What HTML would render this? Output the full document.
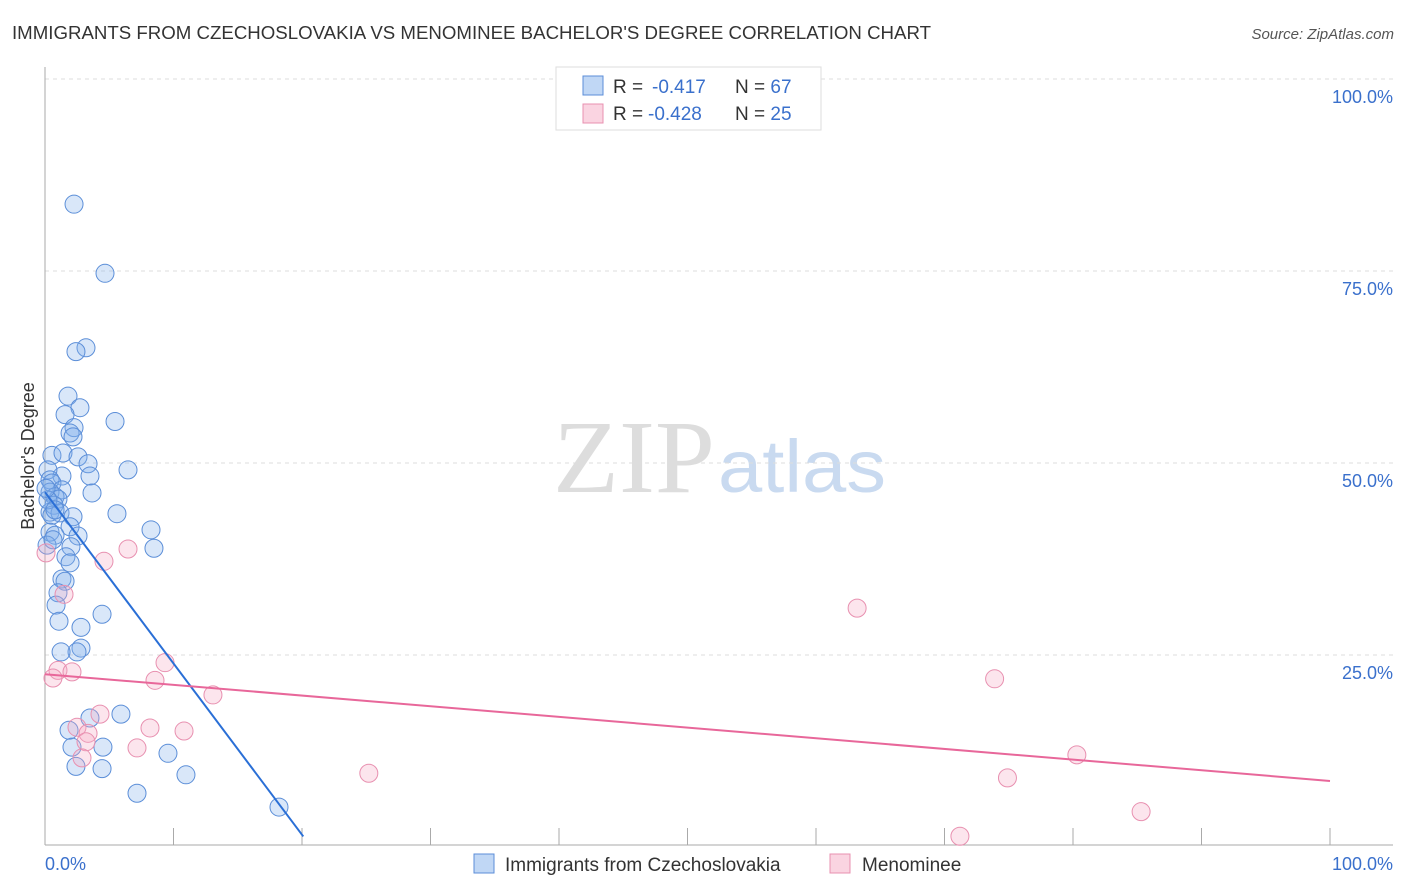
<!DOCTYPE html>
<html><head><meta charset="utf-8"><style>
body{margin:0;background:#fff;font-family:"Liberation Sans",sans-serif;}
svg{display:block}
</style></head><body>
<svg id="chart" width="1406" height="892">
<text x="12" y="39" font-size="18" fill="#333" textLength="919" lengthAdjust="spacingAndGlyphs">IMMIGRANTS FROM CZECHOSLOVAKIA VS MENOMINEE BACHELOR'S DEGREE CORRELATION CHART</text>
<text x="1394" y="39" font-size="15" fill="#555" font-style="italic" text-anchor="end">Source: ZipAtlas.com</text>
<text x="553" y="492" font-size="104" fill="#ddd" font-family="Liberation Serif,serif" textLength="162" lengthAdjust="spacingAndGlyphs">ZIP</text>
<text x="718" y="492" font-size="74" fill="#c9daf0" textLength="168" lengthAdjust="spacingAndGlyphs">atlas</text>
<g id="grid"></g>
<line x1="45" y1="67" x2="45" y2="845" stroke="#aaa"/>
<line x1="45" y1="845" x2="1393" y2="845" stroke="#aaa"/>
<text transform="translate(34,456) rotate(-90)" font-size="18" fill="#333" text-anchor="middle">Bachelor's Degree</text>
<text x="45" y="870" font-size="18" fill="#3a70cc">0.0%</text>
<text x="1393" y="870" font-size="18" fill="#3a70cc" text-anchor="end">100.0%</text>
<g id="pts"></g>
<g id="trends"></g>
<g>
<rect x="556" y="67" width="265" height="63" fill="#fff" stroke="#ddd"/>
<rect x="583" y="76" width="20" height="19" fill="rgba(130,175,235,0.5)" stroke="#5b8ed8"/>
<rect x="583" y="104" width="20" height="19" fill="rgba(245,170,195,0.5)" stroke="#e890b0"/>
<text x="613" y="93" font-size="19" fill="#333">R = <tspan x="652" fill="#3a70cc">-0.417</tspan><tspan x="735">N = </tspan><tspan fill="#3a70cc">67</tspan></text>
<text x="613" y="120" font-size="19" fill="#333">R = <tspan x="648" fill="#3a70cc">-0.428</tspan><tspan x="735">N = </tspan><tspan fill="#3a70cc">25</tspan></text>
</g>
<g>
<rect x="474" y="854" width="20" height="19" fill="rgba(130,175,235,0.5)" stroke="#5b8ed8"/>
<text x="505" y="871" font-size="19" fill="#333">Immigrants from Czechoslovakia</text>
<rect x="830" y="854" width="20" height="19" fill="rgba(245,170,195,0.5)" stroke="#e890b0"/>
<text x="862" y="871" font-size="19" fill="#333">Menominee</text>
</g>
</svg>
<script>
const yTicks=[25,50,75,100];
const yTickLabels=["25.0%","50.0%","75.0%","100.0%"];
const xTicks=[10,20,30,40,50,60,70,80,90,100];
const blueX=[2.26,4.67,3.19,2.41,1.79,2.72,1.56,5.45,2.26,1.95,2.18,0.54,1.40,2.57,3.35,6.46,1.32,3.50,0.23,0.39,0.54,1.32,3.66,0.39,0.78,1.01,0.70,0.39,1.17,2.18,5.60,0.54,1.95,8.25,0.39,0.78,2.57,2.02,8.48,1.63,1.95,1.32,1.56,1.01,0.86,4.44,1.09,2.80,2.80,2.49,1.25,5.91,3.50,1.87,2.10,4.51,9.57,2.41,4.44,10.97,7.16,18.21,0.23,0.08,0.16,0.62,0.78];
const blueY=[83.7,74.7,65.0,64.5,58.7,57.2,56.3,55.4,54.6,53.9,53.4,51.0,51.3,50.8,49.9,49.1,48.3,48.3,49.1,47.8,47.4,46.5,46.1,46.2,45.6,45.3,44.5,43.6,43.5,43.0,43.4,43.2,41.7,41.3,41.0,40.6,40.5,39.1,38.9,37.8,37.0,34.9,34.6,33.1,31.5,30.3,29.4,28.6,25.9,25.4,25.4,17.3,16.8,15.2,13.0,13.0,12.2,10.5,10.2,9.4,7.0,5.2,45.2,46.7,39.3,40.0,43.9];
const pinkX=[0.08,1.48,4.59,6.46,1.01,2.10,0.62,9.34,8.56,13.07,4.28,2.49,3.35,8.17,10.82,3.19,7.16,2.88,25.2,63.2,73.9,80.3,74.9,71.2,85.3];
const pinkY=[38.3,32.9,37.2,38.8,23.0,22.8,22.0,24.0,21.7,19.8,17.3,15.6,14.8,15.5,15.1,13.7,12.9,11.6,9.6,31.1,21.9,12.0,9.0,1.4,4.6];
const blueTrend=[46.2,-2.23];
const blueTrendEnd=20.1;
const pinkTrend=[22.5,-0.139];
const X=v=>45+v*12.85, Y=v=>847-v*7.68;
const NS="http://www.w3.org/2000/svg";
function mk(t,a,p){const e=document.createElementNS(NS,t);for(const k in a)e.setAttribute(k,a[k]);p.appendChild(e);return e;}
const grid=document.getElementById('grid');
yTicks.forEach((t,i)=>{
  const l=mk('line',{x1:45,x2:1393,y1:Y(t),y2:Y(t),stroke:'#ddd','stroke-dasharray':'4,4'},grid);
  
  
  const tx=mk('text',{x:1393,y:Y(t)+24,'font-size':18,fill:'#3a70cc','text-anchor':'end'},grid);
  tx.textContent=yTickLabels[i];
  
  
});
xTicks.forEach(t=>{
  const l=mk('line',{x1:X(t),x2:X(t),y1:828,y2:845,stroke:'#aaa'},grid);
  
  
});
const pts=document.getElementById('pts');
blueX.forEach((x,i)=>{
  const c=mk('circle',{cx:X(x),cy:Y(blueY[i]),r:9,fill:'rgba(130,175,235,0.3)',stroke:'#5b8ed8','stroke-width':1},pts);
  
  
});
pinkX.forEach((x,i)=>{
  const c=mk('circle',{cx:X(x),cy:Y(pinkY[i]),r:9,fill:'rgba(245,170,195,0.3)',stroke:'#e890b0','stroke-width':1},pts);
  
  
});
const tr=document.getElementById('trends');
const bl=mk('line',{x1:X(0),y1:Y(blueTrend[0]),x2:X(blueTrendEnd),y2:Y(blueTrend[0]+blueTrend[1]*blueTrendEnd),stroke:'#2a6fd6','stroke-width':2},tr);


const pl=mk('line',{x1:X(0),y1:Y(pinkTrend[0]),x2:X(100),y2:Y(pinkTrend[0]+pinkTrend[1]*100),stroke:'#e8679a','stroke-width':2},tr);


</script>
</body></html>
